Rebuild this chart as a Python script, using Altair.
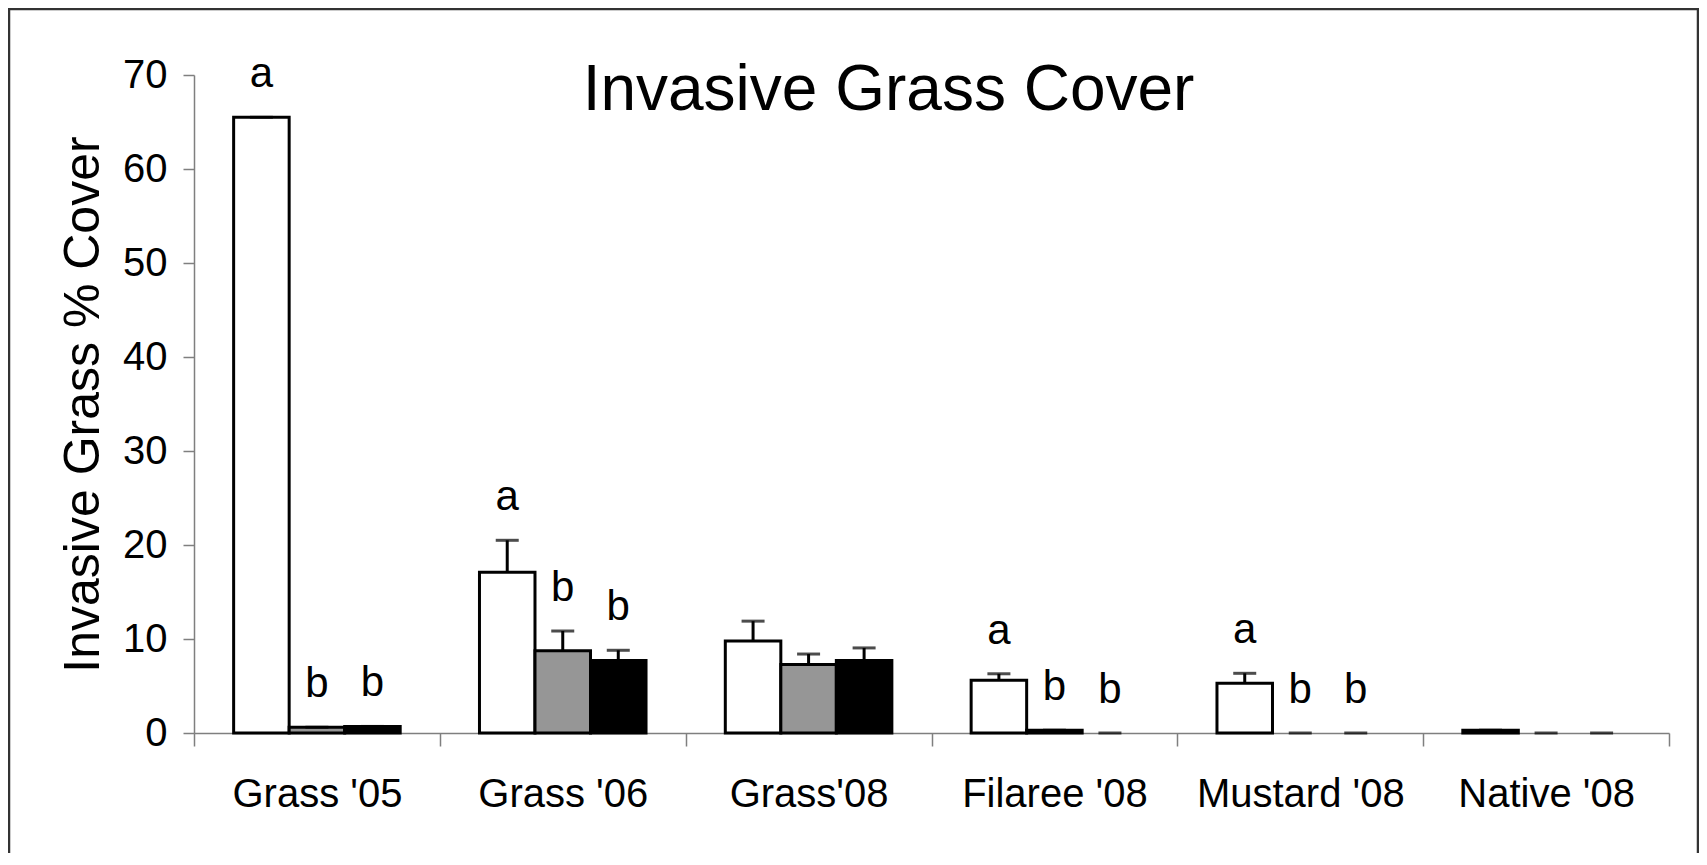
import altair as alt
import pandas as pd

title_text = "Invasive Grass Cover"
categories = ["Grass '05", "Grass '06", "Grass'08", "Filaree '08", "Mustard '08", "Native '08"]
series = ["Treatment 1", "Treatment 2", "Treatment 3"]
series_colors = ["#ffffff", "#969696", "#000000"]

t1_mean = [65.5, 17.1, 9.8, 5.6, 5.3, 0.3]
t1_se = [0.0, 3.4, 2.1, 0.7, 1.05, 0.0]
t1_letter = ["a", "a", "", "a", "a", ""]

t2_mean = [0.6, 8.75, 7.3, 0.3, 0.0, 0.0]
t2_se = [0.0, 2.1, 1.1, 0.0, 0.0, 0.0]
t2_letter = ["b", "b", "", "b", "b", ""]

t3_mean = [0.7, 7.7, 7.7, 0.0, 0.0, 0.0]
t3_se = [0.0, 1.1, 1.35, 0.0, 0.0, 0.0]
t3_letter = ["b", "b", "", "b", "b", ""]

rows = []
for s, means, ses, letters in zip(series, [t1_mean, t2_mean, t3_mean],
                                  [t1_se, t2_se, t3_se],
                                  [t1_letter, t2_letter, t3_letter]):
    for c, m, e, l in zip(categories, means, ses, letters):
        rows.append({"category": c, "series": s, "mean": m, "se": e,
                     "top": m + e, "letter": l})
df = pd.DataFrame(rows)

FONT = "Liberation Sans"
W, H = 1475, 658

x_enc = alt.X("category:N", sort=categories,
              scale=alt.Scale(paddingInner=0, paddingOuter=0),
              axis=alt.Axis(title=None, labelAngle=0, labelFontSize=40,
                            labelFont=FONT, labelColor="black", labelPadding=28,
                            labelLimit=600,
                            tickBand="extent", tickSize=13, tickColor="#7f7f7f",
                            tickWidth=1.5, domainColor="#7f7f7f", domainWidth=1.5,
                            grid=False))
xoff_enc = alt.XOffset("series:N", sort=series,
                       scale=alt.Scale(paddingInner=0, paddingOuter=0.714))
y_scale = alt.Scale(domain=[0, 70], nice=False)

base = alt.Chart(df)

bars = base.mark_bar(stroke="black", strokeWidth=3).encode(
    x=x_enc,
    xOffset=xoff_enc,
    y=alt.Y("mean:Q", scale=y_scale,
            axis=alt.Axis(title="Invasive Grass % Cover", titleFontSize=50,
                          titleFont=FONT, titleFontWeight="normal",
                          titleColor="black", titlePadding=14,
                          values=[0, 10, 20, 30, 40, 50, 60, 70],
                          labelFontSize=40, labelFont=FONT, labelColor="black",
                          labelPadding=16, tickSize=11, tickColor="#7f7f7f",
                          tickWidth=1.5, domainColor="#7f7f7f", domainWidth=1.5,
                          grid=False)),
    fill=alt.Color("series:N", sort=series,
                   scale=alt.Scale(domain=series, range=series_colors),
                   legend=None),
).transform_filter("datum.mean > 0")

err = base.mark_rule(color="black", strokeWidth=3).encode(
    x=alt.X("category:N", sort=categories),
    xOffset=alt.XOffset("series:N", sort=series),
    y="mean:Q",
    y2="top:Q",
)

caps = base.mark_tick(color="black", thickness=3, size=23).encode(
    x=alt.X("category:N", sort=categories),
    xOffset=alt.XOffset("series:N", sort=series),
    y="top:Q",
)

letters = base.mark_text(fontSize=42, font=FONT, color="black",
                         baseline="alphabetic", dy=-30).encode(
    x=alt.X("category:N", sort=categories),
    xOffset=alt.XOffset("series:N", sort=series),
    y="top:Q",
    text="letter:N",
).transform_filter("datum.letter != ''")

title = alt.Chart(alt.Data(values=[{"t": title_text}])).mark_text(
    fontSize=64, font=FONT, color="black", align="center", baseline="alphabetic"
).encode(
    x=alt.value(694.5), y=alt.value(35), text="t:N",
)

frame = alt.Chart(alt.Data(values=[{}])).mark_rect(
    fillOpacity=0, stroke="#333333", strokeWidth=2.5
).encode(
    x=alt.value(-185), x2=alt.value(1504),
    y=alt.value(-66), y2=alt.value(800),
)

chart = alt.layer(frame, bars, err, caps, letters, title).properties(
    width=W, height=H,
    autosize=alt.AutoSizeParams(type="none"),
    padding={"left": 186, "top": 67, "right": 30, "bottom": 120},
).configure(font=FONT, background="white",
            view=alt.ViewConfig(stroke=None))

chart.save("out.html", embed_options={"renderer": "svg", "actions": False})
